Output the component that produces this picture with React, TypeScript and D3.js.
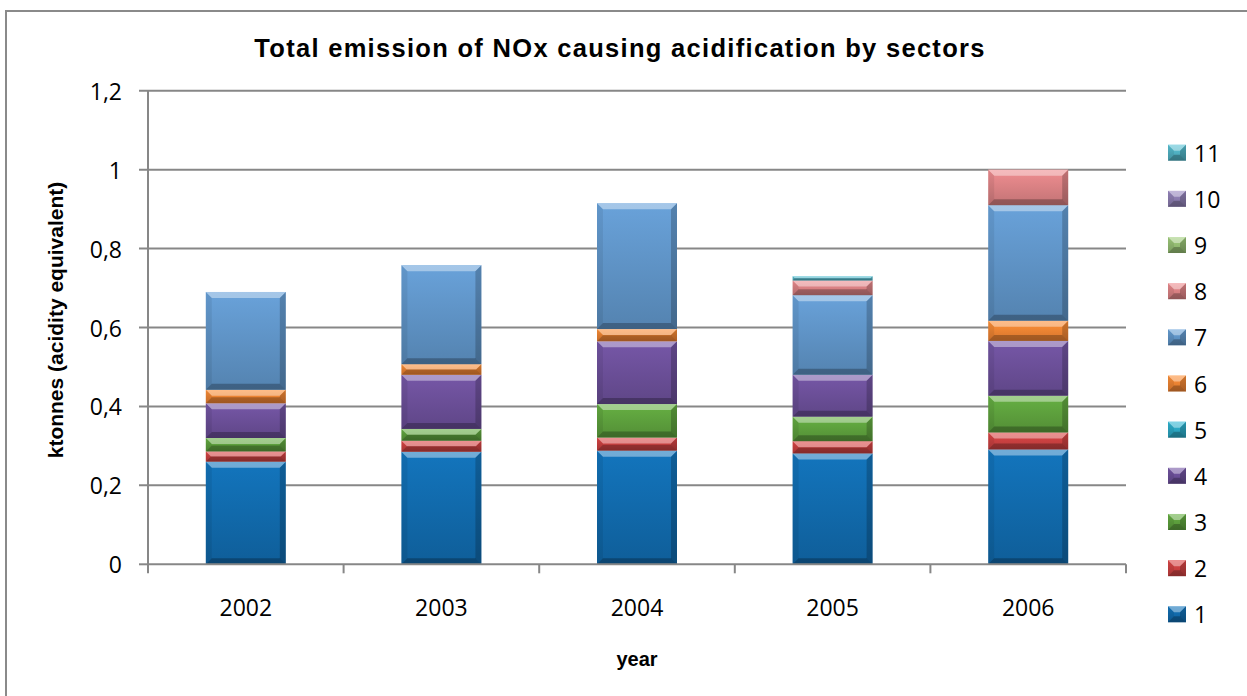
import React from "react";
import * as d3 from "d3";

// Emission of NOx (ktonnes acidity equivalent) by sector, stacked per year
const years = ["2002", "2003", "2004", "2005", "2006"];
const sectors = ["1", "2", "3", "4", "5", "6", "7", "8", "9", "10", "11"];

const sector1 = [0.26, 0.285, 0.288, 0.281, 0.291];
const sector2 = [0.026, 0.028, 0.033, 0.031, 0.043];
const sector3 = [0.034, 0.03, 0.085, 0.062, 0.093];
const sector4 = [0.088, 0.137, 0.159, 0.106, 0.139];
const sector5 = [0, 0, 0, 0, 0];
const sector6 = [0.034, 0.027, 0.031, 0, 0.051];
const sector7 = [0.248, 0.251, 0.319, 0.202, 0.293];
const sector8 = [0, 0, 0, 0.037, 0.09];
const sector9 = [0, 0, 0, 0, 0];
const sector10 = [0, 0, 0, 0, 0];
const sector11 = [0, 0, 0, 0.011, 0];

const yTicks = [0, 0.2, 0.4, 0.6, 0.8, 1, 1.2];

const sectorValues = [
  sector1, sector2, sector3, sector4, sector5, sector6,
  sector7, sector8, sector9, sector10, sector11,
];

const colors = [
  "#1169AA", "#C84040", "#5C9E3C", "#6A4E96", "#2AA5C0", "#EE8232",
  "#5E92C4", "#D88082", "#93BB72", "#8A7BAE", "#4FAFC0",
];

const W = 1247;
const H = 696;
const plot = { left: 148, right: 1126, top: 90.7, bottom: 564.3 };

const rows = years.map((yr, i) => {
  const r: Record<string, number | string> = { year: yr };
  sectors.forEach((s, j) => (r[s] = sectorValues[j][i]));
  return r;
});

const stack = d3.stack<any>().keys(sectors);
const series = stack(rows);

const x = d3
  .scaleBand<string>()
  .domain(years)
  .range([plot.left, plot.right])
  .paddingInner(0.591)
  .paddingOuter(0.2955);

const y = d3.scaleLinear().domain([0, 1.2]).range([plot.bottom, plot.top]);

const fmt = (v: number) => String(+v.toFixed(1)).replace(".", ",");

function Bevel({ x0, y0, w, h, id }: any) {
  if (h <= 0.2) return null;
  const b = Math.min(6, h / 2, w / 2);
  const x1 = x0 + w;
  const y1 = y0 + h;
  const pts = (p: number[][]) => p.map((q) => q.join(",")).join(" ");
  return (
    <g>
      <rect x={x0} y={y0} width={w} height={h} fill={`url(#${id})`} />
      <polygon
        points={pts([[x0, y0], [x1, y0], [x1 - b, y0 + b], [x0 + b, y0 + b]])}
        fill="#ffffff"
        opacity={0.4}
      />
      <polygon
        points={pts([[x0, y1], [x1, y1], [x1 - b, y1 - b], [x0 + b, y1 - b]])}
        fill="#000000"
        opacity={0.26}
      />
      <polygon
        points={pts([[x0, y0], [x0 + b, y0 + b], [x0 + b, y1 - b], [x0, y1]])}
        fill="#000000"
        opacity={0.07}
      />
      <polygon
        points={pts([[x1, y0], [x1 - b, y0 + b], [x1 - b, y1 - b], [x1, y1]])}
        fill="#000000"
        opacity={0.2}
      />
    </g>
  );
}

export default function App() {
  const axisColor = "#878787";
  const tickFont = "'Open Sans', 'DejaVu Sans', sans-serif";
  const boldFont = "'Liberation Sans', Arial, sans-serif";
  const legendTop = 152.7;
  const legendStep = 46.16;

  return (
    <svg
      width={W}
      height={H}
      style={{ position: "absolute", left: 0, top: 0, background: "#fff" }}
    >
      <defs>
        {colors.map((c, i) => {
          const base = d3.color(c)!;
          return (
            <linearGradient key={i} id={`g${i}`} x1="0" y1="0" x2="0" y2="1">
              <stop offset="0%" stopColor={base.brighter(0.3).formatHex()} />
              <stop offset="100%" stopColor={base.darker(0.3).formatHex()} />
            </linearGradient>
          );
        })}
      </defs>

      <rect x={0} y={0} width={W} height={H} fill="#fff" />
      <rect
        x={6}
        y={11}
        width={W + 20}
        height={H + 20}
        fill="none"
        stroke="#8a8a8a"
        strokeWidth={2}
      />

      {/* title */}
      <text
        x={620}
        y={48}
        textAnchor="middle"
        dominantBaseline="central"
        fontFamily={boldFont}
        fontWeight="bold"
        fontSize={25.5}
        letterSpacing={1.3}
      >
        Total emission of NOx causing acidification by sectors
      </text>

      {/* horizontal gridlines and y ticks */}
      {yTicks.map((t) => (
        <g key={t}>
          <line
            x1={plot.left - 9}
            x2={t === 0 ? plot.left : plot.right}
            y1={y(t)}
            y2={y(t)}
            stroke={axisColor}
            strokeWidth={2}
          />
          <text
            x={122}
            y={y(t)}
            textAnchor="end"
            dominantBaseline="central"
            fontFamily={tickFont}
            fontSize={23}
          >
            {fmt(t)}
          </text>
        </g>
      ))}

      {/* stacked bars */}
      {series.map((s, i) =>
        s.map((d, j) => {
          const yr = years[j];
          const top = y(d[1]);
          const bot = y(d[0]);
          return (
            <Bevel
              key={`${i}-${j}`}
              x0={x(yr)!}
              y0={top}
              w={x.bandwidth()}
              h={bot - top}
              id={`g${i}`}
            />
          );
        })
      )}

      {/* axes */}
      <line
        x1={plot.left}
        x2={plot.left}
        y1={plot.top}
        y2={plot.bottom}
        stroke={axisColor}
        strokeWidth={2}
      />
      <line
        x1={plot.left}
        x2={plot.right}
        y1={plot.bottom}
        y2={plot.bottom}
        stroke={axisColor}
        strokeWidth={2}
      />
      {d3.range(years.length + 1).map((k) => {
        const xx = plot.left + k * x.step();
        return (
          <line
            key={k}
            x1={xx}
            x2={xx}
            y1={plot.bottom}
            y2={plot.bottom + 9}
            stroke={axisColor}
            strokeWidth={2}
          />
        );
      })}
      {years.map((yr) => (
        <text
          key={yr}
          x={x(yr)! + x.bandwidth() / 2}
          y={607}
          textAnchor="middle"
          dominantBaseline="central"
          fontFamily={tickFont}
          fontSize={23}
        >
          {yr}
        </text>
      ))}

      {/* axis titles */}
      <text
        x={637}
        y={659}
        textAnchor="middle"
        dominantBaseline="central"
        fontFamily={boldFont}
        fontWeight="bold"
        fontSize={20}
      >
        year
      </text>
      <text
        transform="translate(55,320) rotate(-90)"
        textAnchor="middle"
        dominantBaseline="central"
        fontFamily={boldFont}
        fontWeight="bold"
        fontSize={21}
      >
        ktonnes (acidity equivalent)
      </text>

      {/* legend, last sector on top */}
      {sectors
        .slice()
        .reverse()
        .map((s, k) => {
          const idx = sectors.length - 1 - k;
          const cy = legendTop + k * legendStep;
          return (
            <g key={s}>
              <Bevel x0={1168} y0={cy - 8} w={18} h={16} id={`g${idx}`} />
              <text
                x={1194}
                y={cy}
                dominantBaseline="central"
                fontFamily={tickFont}
                fontSize={23}
              >
                {s}
              </text>
            </g>
          );
        })}
    </svg>
  );
}
